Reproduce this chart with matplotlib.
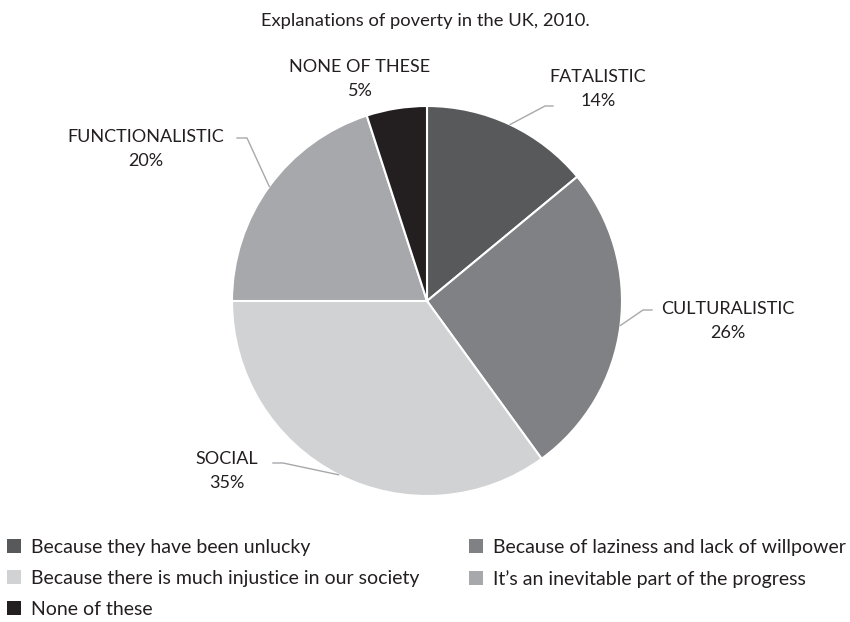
import numpy as np
import matplotlib
matplotlib.use('Agg')
import matplotlib.pyplot as plt
from matplotlib.patches import Patch

plt.rcParams['font.family'] = ['Lato', 'DejaVu Sans']

W, H = 850, 622

categories = ['FATALISTIC', 'CULTURALISTIC', 'SOCIAL', 'FUNCTIONALISTIC', 'NONE OF THESE']
shares = [14, 26, 35, 20, 5]
legend_labels = [
  'Because they have been unlucky',
  'Because of laziness and lack of willpower',
  'Because there is much injustice in our society',
  'It\u2019s an inevitable part of the progress',
  'None of these',
]
colors = ['#58595b', '#808184', '#d1d2d4', '#a7a8ab', '#231f20']

# label text centre and leader line elbow/end (pixel coords, y down)
label_pos = {
  'FATALISTIC': (598, 89),
  'CULTURALISTIC': (728, 321),
  'SOCIAL': (227, 471),
  'FUNCTIONALISTIC': (146, 149),
  'NONE OF THESE': (360, 79),
}
leader_pts = {
  'FATALISTIC': [(545, 106), (553, 106)],
  'CULTURALISTIC': [(643, 310), (652, 310)],
  'SOCIAL': [(283, 463), (273, 463)],
  'FUNCTIONALISTIC': [(247, 138), (237, 138)],
  'NONE OF THESE': None,
}

cx, cy, r = 427, 301, 195
ink = '#231f20'


def py(y):
  return H - y


def main():
  fig = plt.figure(figsize=(W / 100, H / 100), dpi=100)
  ax = fig.add_axes([0, 0, 1, 1])

  ax.pie(shares, colors=colors, startangle=90, counterclock=False,
         center=(cx, py(cy)), radius=r,
         wedgeprops=dict(edgecolor='white', linewidth=1.5))
  # pie() resets the limits, so set the pixel frame afterwards
  ax.set_xlim(0, W)
  ax.set_ylim(0, H)
  ax.set_aspect('equal')
  ax.axis('off')

  total = float(sum(shares))
  start = 90.0
  for name, val in zip(categories, shares):
    span = val / total * 360
    mid = np.deg2rad(start - span / 2)
    start -= span
    lx, ly = label_pos[name]
    ax.text(lx, py(ly), f'{name}\n{val}%', ha='center', va='center',
            fontsize=13, color=ink, linespacing=1.6)
    pts = leader_pts[name]
    if pts:
      ex, ey = cx + r * np.cos(mid), cy - r * np.sin(mid)
      xs = [ex] + [p[0] for p in pts]
      ys = [py(ey)] + [py(p[1]) for p in pts]
      ax.plot(xs, ys, color='#a7a8ab', lw=1)

  ax.text(W / 2, py(21), 'Explanations of poverty in the UK, 2010.', ha='center',
          va='center', fontsize=13.2, color=ink)

  # two legend columns placed independently
  leg_kw = dict(loc='upper left', frameon=False, fontsize=14, borderpad=0,
                handlelength=0.72, handleheight=0.72, handletextpad=0.5,
                labelspacing=0.72, borderaxespad=0)
  cols = [([0, 2, 4], 7), ([1, 3], 469)]
  legs = []
  for idx, x0 in cols:
    handles = [Patch(facecolor=colors[i], edgecolor='none') for i in idx]
    leg = ax.legend(handles, [legend_labels[i] for i in idx],
                    bbox_to_anchor=(x0 / W, 1 - 539 / H), **leg_kw)
    for t in leg.get_texts():
      t.set_color(ink)
    legs.append(leg)
  ax.add_artist(legs[0])

  fig.savefig('out.png', dpi=100)


if __name__ == '__main__':
  main()
